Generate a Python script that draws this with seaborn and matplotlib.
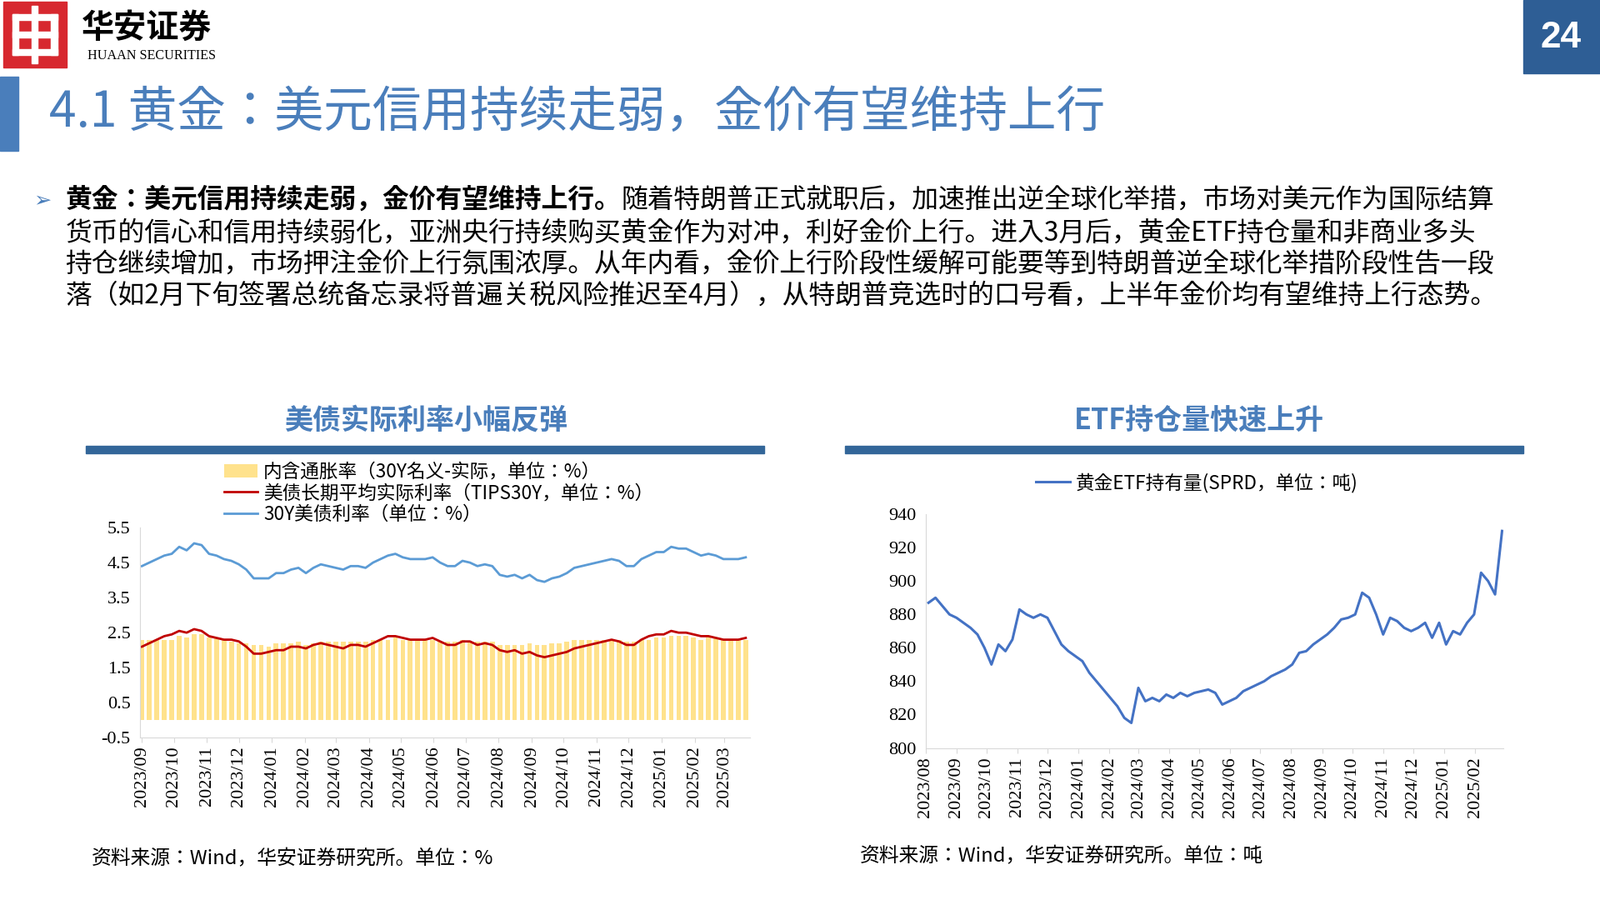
import numpy as np
import pandas as pd
import seaborn as sns
import matplotlib.pyplot as plt
import matplotlib.dates as mdates
from matplotlib.patches import Rectangle

plt.rcParams["font.family"] = ["Noto Sans CJK SC", "Noto Sans CJK JP", "DejaVu Sans"]
NUM = "Liberation Serif"

# left chart: weekly, 2023-09-01 .. 2025-03-21
yield_30y = [4.40, 4.50, 4.60, 4.70, 4.75, 4.95, 4.85, 5.05, 5.00, 4.75, 4.70, 4.60, 4.55,
             4.45, 4.30, 4.05, 4.05, 4.05, 4.20, 4.20, 4.30, 4.35, 4.20, 4.35, 4.45, 4.40,
             4.35, 4.30, 4.40, 4.40, 4.35, 4.50, 4.60, 4.70, 4.75, 4.65, 4.60, 4.60, 4.60, 4.65,
             4.50, 4.40, 4.40, 4.55, 4.50, 4.40, 4.45, 4.40, 4.15, 4.10, 4.15, 4.05, 4.15,
             4.00, 3.95, 4.05, 4.10, 4.20, 4.35, 4.40, 4.45, 4.50, 4.55, 4.60, 4.55, 4.40,
             4.40, 4.60, 4.70, 4.80, 4.80, 4.95, 4.90, 4.90, 4.80, 4.70, 4.75, 4.70, 4.60,
             4.60, 4.60, 4.65]
tips_30y = [2.10, 2.20, 2.30, 2.40, 2.45, 2.55, 2.50, 2.60, 2.55, 2.40, 2.35, 2.30, 2.30,
            2.25, 2.10, 1.90, 1.90, 1.95, 2.00, 2.00, 2.10, 2.10, 2.05, 2.15, 2.20, 2.15,
            2.10, 2.05, 2.15, 2.15, 2.10, 2.20, 2.30, 2.40, 2.40, 2.35, 2.30, 2.30, 2.30, 2.35,
            2.25, 2.15, 2.15, 2.25, 2.25, 2.15, 2.20, 2.15, 2.00, 1.95, 2.00, 1.90, 1.95,
            1.85, 1.80, 1.85, 1.90, 1.95, 2.05, 2.10, 2.15, 2.20, 2.25, 2.30, 2.25, 2.15,
            2.15, 2.30, 2.40, 2.45, 2.45, 2.55, 2.50, 2.50, 2.45, 2.40, 2.40, 2.35, 2.30,
            2.30, 2.30, 2.35]
left_dates = pd.date_range("2023-09-01", periods=len(yield_30y), freq="W-FRI")

# right chart: weekly, 2023-08-04 .. 2025-02-28
etf_hold = [887, 890, 885, 880, 878, 875, 872, 868, 860, 850, 862, 858, 865, 883, 880, 878, 880,
            878, 870, 862, 858, 855, 852, 845, 840, 835, 830, 825, 818, 815, 836, 828, 830, 828, 832,
            830, 833, 831, 833, 834, 835, 833, 826, 828, 830, 834, 836, 838, 840, 843, 845, 847,
            850, 857, 858, 862, 865, 868, 872, 877, 878, 880, 893, 890, 880, 868, 878, 876, 872, 870,
            872, 875, 866, 875, 862, 870, 868, 875, 880, 905, 900, 892, 930]
right_dates = pd.date_range("2023-08-04", periods=len(etf_hold), freq="W-FRI")

left = pd.DataFrame({"date": left_dates, "nominal": yield_30y, "real": tips_30y})
left["infl"] = left["nominal"] - left["real"]
right = pd.DataFrame({"date": right_dates, "etf": etf_hold})

W, H = 1568, 882
fig = plt.figure(figsize=(19.2, 10.8), dpi=100)
S = 1920 / W


def fx(x):
    return x / W


def fy(y):
    return 1 - y / H


def box(x0, y0, x1, y1, color):
    fig.patches.append(Rectangle((fx(x0), fy(y1)), fx(x1 - x0), (y1 - y0) / H,
                                 transform=fig.transFigure, color=color, zorder=1))


# header
box(3, 2, 65, 66, "#d7282f")
for (a, b, c, d) in [(12, 14, 56, 20), (12, 48, 56, 54), (31, 6, 37, 62), (12, 14, 18, 54), (50, 14, 56, 54), (12, 31, 56, 37)]:
    box(a, b, c, d, "white")
fig.text(fx(80), fy(27), "华安证券", fontsize=23 * S, fontweight="bold", va="center")
fig.text(fx(86), fy(55), "HUAAN SECURITIES", fontsize=9.5 * S, va="center", family=NUM)
box(1493, 0, 1568, 72, "#2e5e95")
fig.text(fx(1530), fy(37), "24", fontsize=26 * S, color="white", fontweight="bold",
         ha="center", va="center", family="Liberation Sans")
box(0, 75, 18, 148, "#4a7ebb")
fig.text(fx(48), fy(111), "4.1 黄金：美元信用持续走弱，金价有望维持上行", fontsize=34.5 * S,
         color="#4a7ebb", va="center")

# body text
fs = 18.7 * S
fig.text(fx(33), fy(196), "➢", fontsize=fs * 0.8, color="#4a7ebb", va="center", family="DejaVu Sans")
t0 = fig.text(fx(64), fy(196), "黄金：美元信用持续走弱，金价有望维持上行。", fontsize=fs,
              fontweight="bold", va="center")
fig.canvas.draw()
bb = t0.get_window_extent().transformed(fig.transFigure.inverted())
fig.text(bb.x1, fy(196), "随着特朗普正式就职后，加速推出逆全球化举措，市场对美元作为国际结算",
         fontsize=fs, va="center")
lines = ["货币的信心和信用持续弱化，亚洲央行持续购买黄金作为对冲，利好金价上行。进入3月后，黄金ETF持仓量和非商业多头",
         "持仓继续增加，市场押注金价上行氛围浓厚。从年内看，金价上行阶段性缓解可能要等到特朗普逆全球化举措阶段性告一段",
         "落（如2月下旬签署总统备忘录将普遍关税风险推迟至4月），从特朗普竞选时的口号看，上半年金价均有望维持上行态势。"]
for i, s in enumerate(lines):
    fig.text(fx(64), fy(228 + 31 * i), s, fontsize=fs, va="center")

# chart titles
fig.text(fx(417), fy(412), "美债实际利率小幅反弹", fontsize=20 * S, color="#4a7ebb",
         ha="center", va="center", fontweight="bold")
fig.text(fx(1175), fy(412), "ETF持仓量快速上升", fontsize=20 * S, color="#4a7ebb",
         ha="center", va="center", fontweight="bold")
box(84, 437, 749, 444, "#336699")
box(828, 437, 1493, 444, "#336699")
fig.text(fx(90), fy(842), "资料来源：Wind，华安证券研究所。单位：%", fontsize=14 * S, va="center")
fig.text(fx(843), fy(839), "资料来源：Wind，华安证券研究所。单位：吨", fontsize=14 * S, va="center")

# left chart
ax1 = fig.add_axes([fx(137), fy(723), fx(735 - 137), (723 - 517) / H])
ax1.bar(left["date"], left["infl"], width=4.5, color="#ffc000", alpha=0.45, linewidth=0,
        label="内含通胀率（30Y名义-实际，单位：%）")
sns.lineplot(data=left, x="date", y="real", ax=ax1, color="#c00000", linewidth=2,
             label="美债长期平均实际利率（TIPS30Y，单位：%）")
sns.lineplot(data=left, x="date", y="nominal", ax=ax1, color="#5b9bd5", linewidth=2,
             label="30Y美债利率（单位：%）")
ax1.set_ylim(-0.5, 5.5)
ax1.set_yticks(np.arange(-0.5, 5.6, 1.0))
ax1.set_yticklabels([f"{v:.1f}" for v in np.arange(-0.5, 5.6, 1.0)])
ax1.set_xlim(pd.Timestamp("2023-08-30"), pd.Timestamp("2025-03-25"))
ax1.set_xticks(pd.date_range("2023-09-01", "2025-03-01", freq="MS"))
ax1.xaxis.set_major_formatter(mdates.DateFormatter("%Y/%m"))
h, l = ax1.get_legend_handles_labels()
ax1.legend([h[2], h[0], h[1]], [l[2], l[0], l[1]], loc="lower left",
           bbox_to_anchor=(fx(212 - 137) / fx(598), 0.98), frameon=False,
           fontsize=13.3 * S, handlelength=1.8, handletextpad=0.3, borderaxespad=0,
           labelspacing=0.12)

# right chart
ax2 = fig.add_axes([fx(907), fy(733), fx(1473 - 907), (733 - 504) / H])
sns.lineplot(data=right, x="date", y="etf", ax=ax2, color="#4472c4", linewidth=2.2,
             label="黄金ETF持有量(SPRD，单位：吨)")
ax2.set_ylim(800, 940)
ax2.set_yticks(range(800, 941, 20))
ax2.set_xlim(pd.Timestamp("2023-08-01"), pd.Timestamp("2025-03-01"))
ax2.set_xticks(pd.date_range("2023-08-01", "2025-02-01", freq="MS"))
ax2.xaxis.set_major_formatter(mdates.DateFormatter("%Y/%m"))
ax2.legend(loc="lower center", bbox_to_anchor=(0.47, 1.06), frameon=False,
           fontsize=13.3 * S, handlelength=1.8, handletextpad=0.3, borderaxespad=0)

for ax in (ax1, ax2):
    ax.set_xlabel("")
    ax.set_ylabel("")
    for sp in ("top", "right"):
        ax.spines[sp].set_visible(False)
    ax.spines["left"].set_color("#d9d9d9")
    ax.spines["bottom"].set_color("#d9d9d9")
    ax.tick_params(axis="y", length=0, labelsize=13 * S, pad=8)
    ax.tick_params(axis="x", rotation=90, labelsize=13 * S, length=4, color="#d9d9d9")
    for t in ax.get_xticklabels() + ax.get_yticklabels():
        t.set_family(NUM)
    ax.set_facecolor("white")

fig.savefig("out.png", dpi=100)
